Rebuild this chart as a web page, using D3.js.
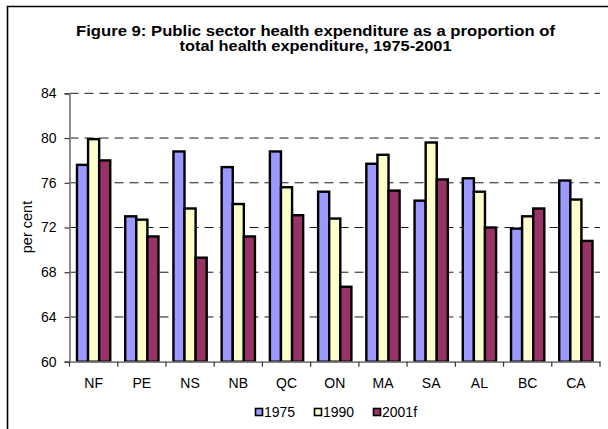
<!DOCTYPE html>
<html>
<head>
<meta charset="utf-8">
<script src="https://cdn.jsdelivr.net/npm/d3@7"></script>
<style>
  html, body { margin: 0; padding: 0; background: #fff; }
  svg { display: block; }
  text { font-family: "Liberation Sans", Arial, sans-serif; fill: #000; }
</style>
</head>
<body>
<svg id="chart" width="608" height="429"></svg>
<script>
const categories = ["NF", "PE", "NS", "NB", "QC", "ON", "MA", "SA", "AL", "BC", "CA"];
const seriesNames = ["1975", "1990", "2001f"];
const values1975 = [77.6, 73.0, 78.8, 77.4, 78.8, 75.2, 77.7, 74.4, 76.4, 71.9, 76.2];
const values1990 = [79.9, 72.7, 73.7, 74.1, 75.6, 72.8, 78.5, 79.6, 75.2, 73.0, 74.5];
const values2001 = [78.0, 71.2, 69.3, 71.2, 73.1, 66.7, 75.3, 76.3, 72.0, 73.7, 70.8];
const yTicks = [60, 64, 68, 72, 76, 80, 84];
const titleLines = ["Figure 9:  Public sector health expenditure as a proportion of",
                    "total health expenditure, 1975-2001"];
const yTitle = "per cent";

const colors = ["#9999FF", "#FFFFCC", "#993366"];
const seriesValues = [values1975, values1990, values2001];

const svg = d3.select("#chart");
const plotLeft = 69.5, plotRight = 600, plotTop = 93.3, plotBottom = 361.7;

// frame (left + top)
svg.append("path").attr("d", "M7.5,429 L7.5,6.5 L608,6.5")
  .attr("fill", "none").attr("stroke", "#000").attr("stroke-width", 1.6);

// title
const titleLen = [479, 272];
titleLines.forEach((t, i) => {
  svg.append("text").attr("text-anchor", "middle")
    .attr("x", 315.5).attr("y", 35.5 + i * 15.5)
    .attr("textLength", titleLen[i]).attr("lengthAdjust", "spacingAndGlyphs")
    .style("font-weight", "bold").style("font-size", "15px").text(t);
});

const x0 = d3.scaleBand().domain(categories).range([plotLeft, plotRight]).padding(0);
const x1 = d3.scaleBand().domain(seriesNames)
  .range([x0.step() * 0.155, x0.step() * 0.845]).padding(0);
const y = d3.scaleLinear().domain([60, 84]).range([plotBottom, plotTop]);

// gridlines
svg.append("g").selectAll("line").data(yTicks.filter(d => d > 60)).join("line")
  .attr("x1", plotLeft).attr("x2", plotRight)
  .attr("y1", d => y(d)).attr("y2", d => y(d))
  .attr("stroke", "#1a1a1a").attr("stroke-width", 1).attr("stroke-dasharray", "9,6");

// bars
const groups = svg.append("g").selectAll("g").data(categories).join("g")
  .attr("transform", d => `translate(${x0(d)},0)`);
groups.selectAll("rect")
  .data((c, ci) => seriesNames.map((s, si) => ({ s, si, v: seriesValues[si][ci] })))
  .join("rect")
  .attr("x", d => x1(d.s))
  .attr("width", x1.bandwidth())
  .attr("y", d => y(d.v))
  .attr("height", d => y(60) - y(d.v))
  .attr("fill", d => colors[d.si])
  .attr("stroke", "#000").attr("stroke-width", 2.4);

// y axis
const yAxis = d3.axisLeft(y).tickValues(yTicks).tickSize(5).tickPadding(8).tickFormat(d3.format("d"));
const gy = svg.append("g").attr("transform", `translate(${plotLeft},0)`).call(yAxis);
gy.select(".domain").attr("stroke", "#808080").attr("stroke-width", 1.8);
gy.selectAll(".tick line").attr("stroke", "#333").attr("stroke-width", 1.2);
gy.selectAll("text").style("font-size", "14px").style("font-family", "'Liberation Sans', Arial, sans-serif");

// x axis
const xAxis = d3.axisBottom(x0).tickSize(0).tickPadding(16);
const gx = svg.append("g").attr("transform", `translate(0,${plotBottom})`).call(xAxis);
gx.select(".domain").attr("stroke", "#808080").attr("stroke-width", 1.8);
gx.selectAll("text").style("font-size", "14px").style("font-family", "'Liberation Sans', Arial, sans-serif");
// category boundary ticks
gx.append("g").selectAll("line").data(categories.concat(["_end"])).join("line")
  .attr("x1", (d, i) => plotLeft + i * x0.step()).attr("x2", (d, i) => plotLeft + i * x0.step())
  .attr("y1", 0).attr("y2", 5).attr("stroke", "#333").attr("stroke-width", 1.2);

// y title
svg.append("text").attr("transform", "translate(32,227) rotate(-90)")
  .attr("text-anchor", "middle").style("font-size", "14.5px").text(yTitle);

// legend
const legend = svg.append("g").attr("transform", "translate(255.5,412)");
const legX = [0, 59, 118];
seriesNames.forEach((s, i) => {
  const g = legend.append("g").attr("transform", `translate(${legX[i]},0)`);
  g.append("rect").attr("x", 0).attr("y", -3.5).attr("width", 7).attr("height", 7)
    .attr("fill", colors[i]).attr("stroke", "#000").attr("stroke-width", 1.6);
  g.append("text").attr("x", 8.5).attr("y", 5).style("font-size", "14px").text(s);
});
</script>
</body>
</html>
